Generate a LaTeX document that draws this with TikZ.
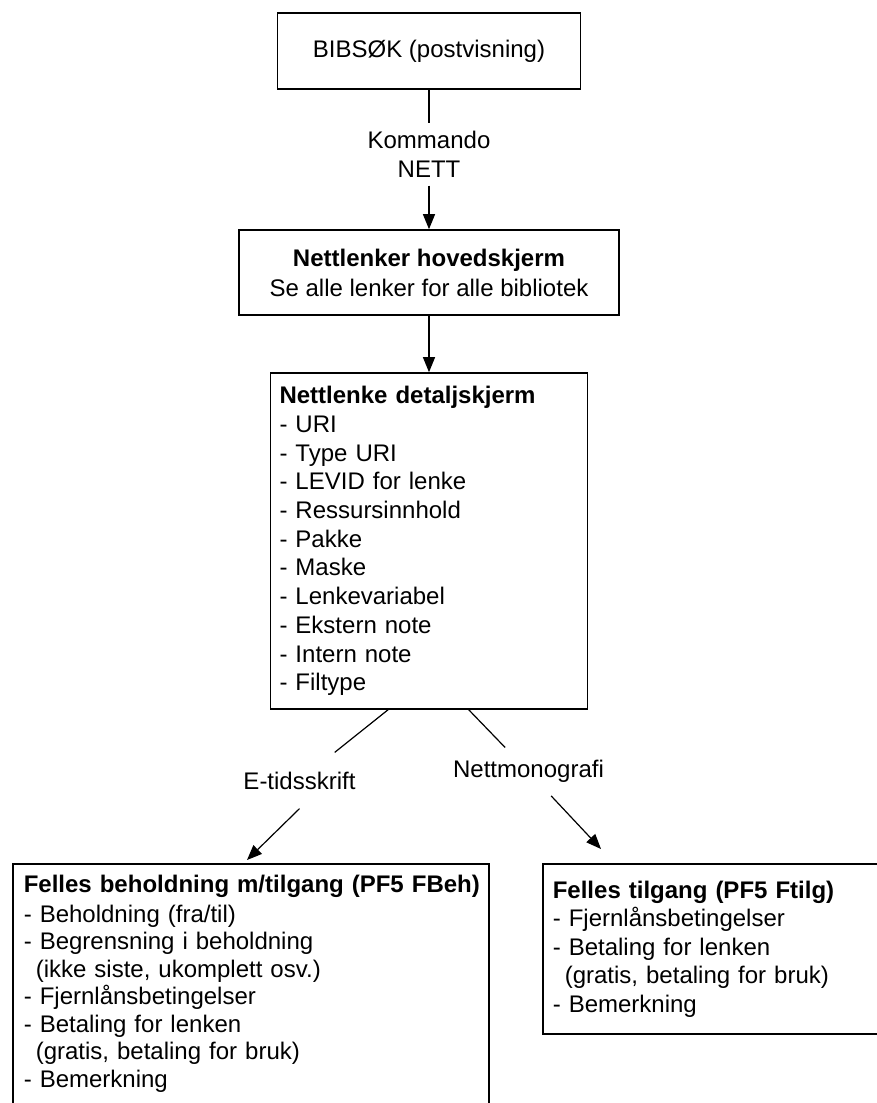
\documentclass[tikz,border=0pt]{standalone}
\usepackage{fontspec}
\setmainfont{Liberation Sans}
\usetikzlibrary{arrows.meta}

\begin{document}
\begin{tikzpicture}[x=1pt, y=-1pt, line width=1.2pt,
  >={Triangle[length=15pt,width=12pt]},
  boks/.style={draw, line width=1.6pt, inner sep=0pt, font=\fontsize{24}{28.5}\selectfont},
  merk/.style={align=center, font=\fontsize{24}{29.6}\selectfont}]
\useasboundingbox (0,0) rectangle (877,1103);
\clip (0,0) rectangle (877,1103);
\node [boks, minimum width=303pt, minimum height=76pt] (bib) at (429,51) {BIBSØK (postvisning)};
\node [merk, inner ysep=7pt] (kom) at (429,154.5) {Kommando\\NETT};
\node [boks, minimum width=380pt, minimum height=85pt, align=center, font=\fontsize{24}{30}\selectfont] (hoved) at (429,272.5) {\textbf{Nettlenker hovedskjerm}\\Se alle lenker for alle bibliotek};
\node [boks, minimum width=317pt, minimum height=336pt, text width=299pt, inner xsep=9pt, align=left, font=\fontsize{24}{28.7}\selectfont] (det) at (429,541) {\textbf{Nettlenke detaljskjerm}\\- URI\\- Type URI\\- LEVID for lenke\\- Ressursinnhold\\- Pakke\\- Maske\\- Lenkevariabel\\- Ekstern note\\- Intern note\\- Filtype};
\node [merk, inner ysep=18.7pt] (etid) at (299.5,780.5) {E-tidsskrift};
\node [merk, inner ysep=12.4pt] (nmon) at (528.5,771.7) {Nettmonografi};
\node [boks, anchor=north west, text width=454pt, inner xsep=11pt, inner ysep=11.4pt, align=left, font=\fontsize{24}{27.5}\selectfont] (fb) at (12,863) {\mbox{\textbf{Felles beholdning m/tilgang (PF5 FBeh)}}\\[2pt]- Beholdning (fra/til)\\- Begrensning i beholdning\\\hspace*{12pt}(ikke siste, ukomplett osv.)\\- Fjernlånsbetingelser\\- Betaling for lenken\\\hspace*{12pt}(gratis, betaling for bruk)\\- Bemerkning\\[30pt]\mbox{}};
\node [boks, anchor=north west, text width=348pt, inner xsep=10pt, minimum height=170pt, align=left] (ft) at (542,863) {\textbf{Felles tilgang (PF5 Ftilg)}\\- Fjernlånsbetingelser\\- Betaling for lenken\\\hspace*{12pt}(gratis, betaling for bruk)\\- Bemerkning};
\coordinate (d1) at (389,709);
\coordinate (d2) at (468,709);
\coordinate (etip) at (247,860);
\coordinate (ntip) at (601,849);
\draw (bib) -- (kom);
\draw [->] (kom) -- (hoved);
\draw [->] (hoved) -- (det);
\draw (d1) -- (etid);
\draw [->] (etid.south) -- (etip);
\draw (d2) -- (nmon);
\draw [->] (nmon) -- (ntip);
\end{tikzpicture}
\end{document}
